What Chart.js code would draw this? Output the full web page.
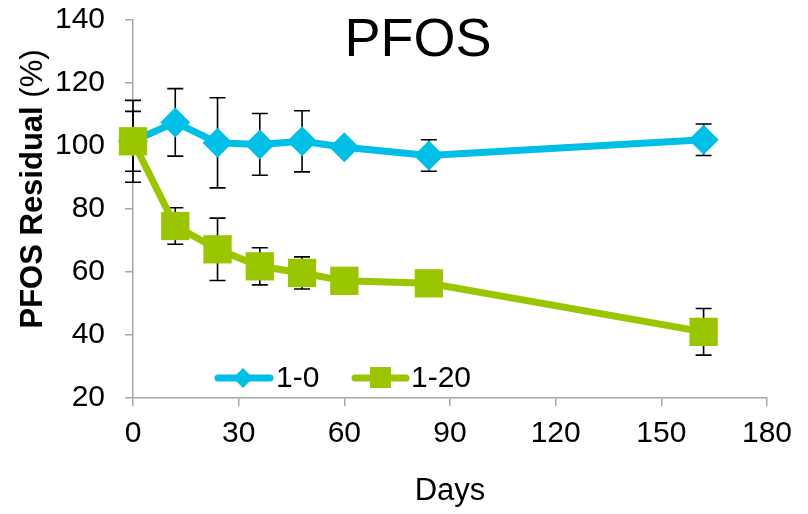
<!DOCTYPE html>
<html>
<head>
<meta charset="utf-8">
<script src="https://cdn.jsdelivr.net/npm/chart.js@4.4.0/dist/chart.umd.min.js"></script>
<style>
  html, body { margin:0; padding:0; background:#fff; }
  #wrap { width:808px; height:514px; }
</style>
</head>
<body>
<div id="wrap"><canvas id="pfosChart"></canvas></div>
<script>
// days of sampling
var days = [0, 12, 24, 36, 48, 60, 84, 162];
// 1-0 series (mean and error)
var res10 = [101.5, 107.5, 101, 100.5, 101.5, 99.6, 97, 102];
var err10 = [13, 10.7, 14.3, 9.8, 9.7, 0, 5, 5];
// 1-20 series
var res120 = [101.5, 74.6, 67.2, 61.8, 59.7, 57.2, 56.4, 41];
var err120 = [9.5, 5.8, 9.9, 5.9, 5.1, 0, 0, 7.4];
var xTicks = [0, 30, 60, 90, 120, 150, 180];
var yTicks = [20, 40, 60, 80, 100, 120, 140];

var blue = '#00BFE6', green = '#99C600', axisGrey = '#a6a6a6';
var font = '"Liberation Sans", Arial, sans-serif';

function pts(ys){ return days.map(function(d,i){ return {x:d, y:ys[i]}; }); }

var errorBars = {
    id: 'errorBars',
    beforeDatasetsDraw: function(chart){
        var ctx = chart.ctx, xs = chart.scales.x, ys = chart.scales.y;
        ctx.save();
        ctx.strokeStyle = '#000';
        ctx.lineWidth = 1.6;
        [[res10, err10], [res120, err120]].forEach(function(s){
            days.forEach(function(d, i){
                if (!s[1][i]) return;
                var px = xs.getPixelForValue(d);
                var top = ys.getPixelForValue(s[0][i] + s[1][i]);
                var bot = ys.getPixelForValue(s[0][i] - s[1][i]);
                ctx.beginPath();
                ctx.moveTo(px, top); ctx.lineTo(px, bot);
                ctx.moveTo(px - 8, top); ctx.lineTo(px + 8, top);
                ctx.moveTo(px - 8, bot); ctx.lineTo(px + 8, bot);
                ctx.stroke();
            });
        });
        ctx.restore();
    }
};

var extras = {
    id: 'extras',
    afterDraw: function(chart){
        var ctx = chart.ctx;
        ctx.save();
        // title inside plot
        ctx.fillStyle = '#000';
        ctx.font = '54px ' + font;
        ctx.textAlign = 'center';
        ctx.textBaseline = 'middle';
        ctx.fillText('PFOS', 418, 41);
        // y axis title, bold part + normal part
        ctx.translate(33, 189);
        ctx.rotate(-Math.PI / 2);
        ctx.font = 'bold 31px ' + font;
        var w1 = ctx.measureText('PFOS Residual ').width;
        ctx.font = '31px ' + font;
        var w2 = ctx.measureText('(%)').width;
        var sx = -(w1 + w2) / 2;
        ctx.textAlign = 'left';
        ctx.font = 'bold 31px ' + font;
        ctx.fillText('PFOS Residual ', sx, 0);
        ctx.font = '31px ' + font;
        ctx.fillText('(%)', sx + w1, 0);
        ctx.restore();

        // legend inside plot
        ctx.save();
        var ly = 378;
        ctx.lineCap = 'round';
        ctx.lineWidth = 7;
        ctx.strokeStyle = blue;
        ctx.beginPath(); ctx.moveTo(218, ly); ctx.lineTo(270, ly); ctx.stroke();
        ctx.fillStyle = blue;
        ctx.beginPath();
        ctx.moveTo(243, ly - 10); ctx.lineTo(253, ly); ctx.lineTo(243, ly + 10); ctx.lineTo(233, ly);
        ctx.closePath(); ctx.fill();
        ctx.strokeStyle = green;
        ctx.beginPath(); ctx.moveTo(355, ly); ctx.lineTo(406, ly); ctx.stroke();
        ctx.fillStyle = green;
        ctx.fillRect(370, ly - 11, 21, 21);
        ctx.fillStyle = '#000';
        ctx.font = '30px ' + font;
        ctx.textAlign = 'left';
        ctx.textBaseline = 'middle';
        ctx.fillText('1-0', 276, ly + 1);
        ctx.fillText('1-20', 411, ly + 1);
        ctx.restore();
    }
};

new Chart(document.getElementById('pfosChart'), {
    type: 'line',
    data: {
        datasets: [
            { label: '1-0', data: pts(res10), borderColor: blue, backgroundColor: blue, borderWidth: 7, clip: false,
              pointStyle: 'rectRot', pointRadius: 15, pointHoverRadius: 15, pointBorderWidth: 0, order: 2 },
            { label: '1-20', data: pts(res120), borderColor: green, backgroundColor: green, borderWidth: 7, clip: false,
              pointStyle: 'rect', pointRadius: 20, pointHoverRadius: 20, pointBorderWidth: 0, order: 1 }
        ]
    },
    options: {
        responsive: true,
        maintainAspectRatio: false,
        animation: false,
        layout: { padding: { top: 0, right: 41, left: 0, bottom: 0 } },
        plugins: { legend: { display: false }, tooltip: { enabled: false } },
        scales: {
            x: {
                type: 'linear', min: 0, max: 180,
                afterBuildTicks: function(s){ s.ticks = xTicks.map(function(v){ return {value:v}; }); },
                afterFit: function(s){ s.height = 116; },
                grid: { display: true, drawOnChartArea: false, color: axisGrey, tickLength: 8, lineWidth: 1.5 },
                border: { color: axisGrey, width: 1.5 },
                ticks: { color: '#000', font: { family: font, size: 30 }, padding: 10 },
                title: { display: true, text: 'Days', color: '#000', font: { family: font, size: 31 }, padding: { top: 12 } }
            },
            y: {
                min: 20, max: 140,
                afterBuildTicks: function(s){ s.ticks = yTicks.map(function(v){ return {value:v}; }); },
                afterFit: function(s){ s.width = 133; s.paddingTop = 17; s.paddingBottom = 0; },
                grid: { display: true, drawOnChartArea: false, color: axisGrey, tickLength: 8, lineWidth: 1.5 },
                border: { color: axisGrey, width: 1.5 },
                ticks: { color: '#000', font: { family: font, size: 30 }, padding: 20 }
            }
        }
    },
    plugins: [errorBars, extras]
});
</script>
</body>
</html>
